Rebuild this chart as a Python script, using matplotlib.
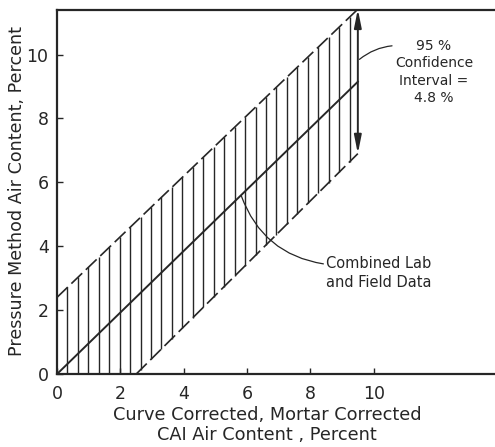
import numpy as np
import matplotlib
matplotlib.use("Agg")
import matplotlib.pyplot as plt
from matplotlib.patches import FancyArrowPatch

# ---- data ----
fit_x = [0.0, 9.5]
fit_y = [0.0, 9.15]
upper_x = [0.0, 9.5]
upper_y = [2.4, 11.42]
lower_x = [2.5, 9.5]
lower_y = [0.0, 6.9]
x_ticks = [0, 2, 4, 6, 8, 10]
y_ticks = [0, 2, 4, 6, 8, 10]
x_tick_labels = ["0", "2", "4", "6", "8", "10"]
y_tick_labels = ["0", "2", "4", "6", "8", "10"]
hatch_step = 0.33

plt.rcParams['font.family'] = ['DejaVu Sans']
ink = '#262626'

fig = plt.figure(figsize=(4.95, 4.47), dpi=100)
ax = fig.add_axes([0.115, 0.163, 0.885, 0.815])
ax.set_xlim(0, 13.83)
ax.set_ylim(0, 11.4)

# hatch verticals between boundaries
hx = np.arange(hatch_step, fit_x[-1] - 0.1, hatch_step)
top = np.interp(hx, upper_x, upper_y)
bot = np.interp(hx, lower_x, lower_y, left=0.0)
ax.vlines(hx, bot, top, colors=ink, linewidth=1.0)

# boundaries (dashed) and fitted line
ax.plot(upper_x, upper_y, color=ink, lw=1.2, dashes=(9, 3))
ax.plot(lower_x, lower_y, color=ink, lw=1.2, dashes=(9, 3))
ax.plot(fit_x, fit_y, color=ink, lw=1.4)

# confidence interval double arrow
arr = FancyArrowPatch((fit_x[-1], lower_y[-1]), (fit_x[-1], upper_y[-1]),
                      arrowstyle='<|-|>,head_length=0.9,head_width=0.18',
                      mutation_scale=12, color=ink, lw=1.4,
                      shrinkA=0, shrinkB=0, zorder=5)
ax.add_patch(arr)

ax.annotate('95 %\nConfidence\nInterval =\n4.8 %', xy=(9.55, 9.85), xytext=(11.9, 9.45),
            ha='center', va='center', fontsize=10, linespacing=1.3, color=ink,
            arrowprops=dict(arrowstyle='-', color=ink, lw=0.9,
                            shrinkA=0, shrinkB=0,
                            connectionstyle='arc3,rad=0.2',
                            relpos=(0.12, 0.9)))
ax.annotate('Combined Lab\nand Field Data', xy=(5.82, 5.58), xytext=(8.5, 3.17),
            ha='left', va='center', fontsize=10.5, linespacing=1.35, color=ink,
            arrowprops=dict(arrowstyle='-', color=ink, lw=0.9,
                            shrinkA=0, shrinkB=0,
                            connectionstyle='arc3,rad=-0.3',
                            relpos=(0.0, 0.75)))

ax.set_xticks(x_ticks)
ax.set_xticklabels(x_tick_labels)
ax.set_yticks(y_ticks)
ax.set_yticklabels(y_tick_labels)
ax.tick_params(direction='in', length=4, width=1, colors=ink, labelsize=12.5)
ax.tick_params(axis='x', pad=8)
ax.tick_params(axis='y', pad=6)

for s in ['left', 'bottom', 'top']:
    ax.spines[s].set_linewidth(1.6)
    ax.spines[s].set_color(ink)
ax.spines['right'].set_visible(False)

ax.set_xlabel('Curve Corrected, Mortar Corrected\nCAI Air Content , Percent',
              fontsize=12.8, color=ink, linespacing=1.15, va='top')
ax.xaxis.set_label_coords((267 - 57) / 438, (374 - 406) / 364)
ax.set_ylabel('Pressure Method Air Content, Percent', fontsize=12.6, color=ink)
ax.yaxis.set_label_coords((26 - 57) / 438, (374 - 191) / 364)
fig.savefig('out.png', dpi=100, facecolor='white')
